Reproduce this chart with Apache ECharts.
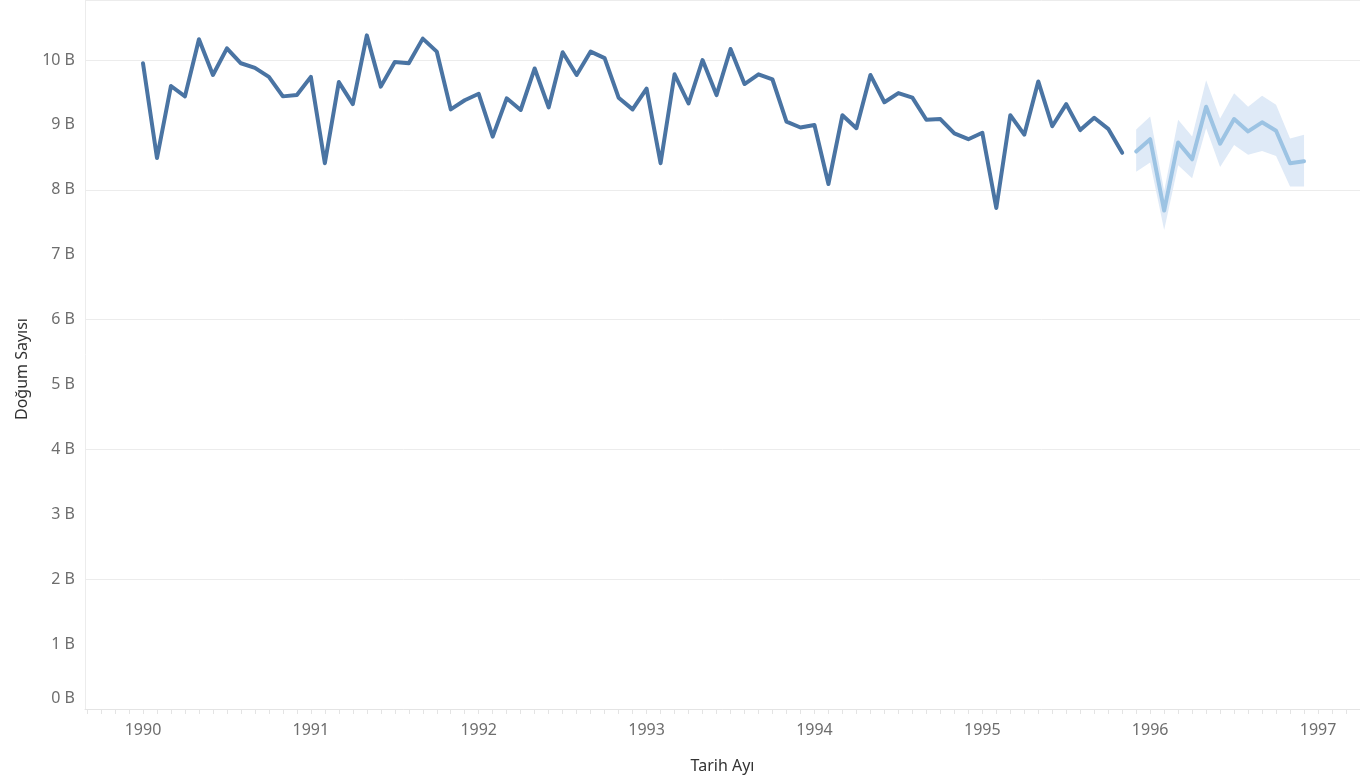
<!DOCTYPE html>
<html>
<head>
<meta charset="utf-8">
<script src="https://cdn.jsdelivr.net/npm/echarts@6/dist/echarts.min.js"></script>
<style>
html,body{margin:0;padding:0;background:#fff;}
#c{width:1360px;height:784px;}
</style>
</head>
<body>
<div id="c"></div>
<script>
// Monthly births (billions), Jan 1990 .. Nov 1995
var startYear = 1990;
var actual = [
  9.95, 8.49, 9.60, 9.44, 10.32, 9.77, 10.18, 9.95, 9.88, 9.74, 9.44, 9.46,
  9.74, 8.41, 9.66, 9.32, 10.38, 9.59, 9.97, 9.95, 10.33, 10.13, 9.24, 9.38,
  9.48, 8.82, 9.41, 9.23, 9.87, 9.27, 10.12, 9.77, 10.13, 10.03, 9.42, 9.24,
  9.56, 8.41, 9.78, 9.33, 10.00, 9.46, 10.17, 9.63, 9.78, 9.70, 9.05, 8.96,
  9.00, 8.09, 9.15, 8.95, 9.77, 9.35, 9.49, 9.42, 9.08, 9.09, 8.87, 8.78,
  8.88, 7.72, 9.15, 8.85, 9.67, 8.98, 9.32, 8.92, 9.11, 8.94, 8.57
];
// Forecast Dec 1995 .. Dec 1996
var forecastStart = 71; // month index of first forecast point
var forecast = [8.59, 8.78, 7.68, 8.73, 8.47, 9.28, 8.71, 9.09, 8.90, 9.04, 8.91, 8.41, 8.44];
var forecastUpper = [8.93, 9.13, 7.98, 9.08, 8.82, 9.69, 9.10, 9.49, 9.28, 9.45, 9.31, 8.79, 8.85];
var forecastLower = [8.28, 8.42, 7.38, 8.38, 8.18, 8.95, 8.35, 8.69, 8.54, 8.60, 8.52, 8.05, 8.05];

var yearTicks = [0, 12, 24, 36, 48, 60, 72, 84];          // month index of each January
var yearLabels = ['1990','1991','1992','1993','1994','1995','1996','1997'];
var monthTicks = [];
for (var m = -4; m <= 87; m++) monthTicks.push(m);
var yTicks = [0,1,2,3,4,5,6,7,8,9,10];

var actualData = actual.map(function(v, i){ return [i, v]; });
var forecastData = forecast.map(function(v, i){ return [forecastStart + i, v]; });

var fontFam = '"Noto Sans", "Open Sans", sans-serif';
var chart = echarts.init(document.getElementById('c'), null, {renderer:'canvas'});
chart.setOption({
  animation: false,
  backgroundColor: '#ffffff',
  grid: { left: 85, right: 0, top: 0, bottom: 75, containLabel: false },
  xAxis: {
    type: 'value',
    min: -4.146, max: 87.0,
    splitLine: { show: false },
    axisLine: { show: true, onZero: false, lineStyle: { color: '#e4e4e4', width: 1 } },
    axisTick: { show: true, customValues: monthTicks, length: 5, lineStyle: { color: '#e4e4e4' } },
    axisLabel: {
      customValues: yearTicks,
      formatter: function(v){ var k = yearTicks.indexOf(Math.round(v)); return k >= 0 ? yearLabels[k] : ''; },
      color: '#6e6e6e', fontSize: 16, fontFamily: fontFam, margin: 13
    },
    name: 'Tarih Ayı', nameLocation: 'middle', nameGap: 49,
    nameTextStyle: { color: '#333', fontSize: 16, fontFamily: fontFam }
  },
  yAxis: {
    type: 'value',
    min: 0, max: 10.925,
    axisLine: { show: true, onZero: false, lineStyle: { color: '#ececec', width: 1 } },
    axisTick: { show: false },
    splitLine: { show: true, lineStyle: { color: '#ececec', width: 1 } },
    axisLabel: {
      customValues: yTicks,
      formatter: function(v){ return v === 0 ? '{z|0 B}' : v + ' B'; },
      rich: { z: { color: '#6e6e6e', fontSize: 16, fontFamily: fontFam, padding: [0,0,22,0] } },
      color: '#6e6e6e', fontSize: 16, fontFamily: fontFam, margin: 10
    }
  },
  graphic: [{
    type: 'text', left: 14, top: 318, rotation: Math.PI / 2,
    style: { text: 'Doğum Sayısı', fill: '#333', fontSize: 16, fontFamily: fontFam }
  }],
  series: [
    {
      type: 'custom',
      name: 'band',
      z: 1,
      silent: true,
      data: [0],
      renderItem: function(params, api){
        var pts = [];
        for (var i = 0; i < forecastUpper.length; i++) pts.push(api.coord([forecastStart + i, forecastUpper[i]]));
        for (var j = forecastLower.length - 1; j >= 0; j--) pts.push(api.coord([forecastStart + j, forecastLower[j]]));
        return { type: 'polygon', shape: { points: pts }, style: { fill: '#dfeaf7' } };
      }
    },
    {
      type: 'line', name: 'Doğum Sayısı', data: actualData, z: 3,
      showSymbol: false, symbol: 'none',
      lineStyle: { color: '#4a74a3', width: 4, cap: 'round', join: 'round' }
    },
    {
      type: 'line', name: 'Tahmin', data: forecastData, z: 2,
      showSymbol: false, symbol: 'none',
      lineStyle: { color: '#9cc3e3', width: 4, cap: 'round', join: 'round' }
    }
  ]
});
</script>
</body>
</html>
